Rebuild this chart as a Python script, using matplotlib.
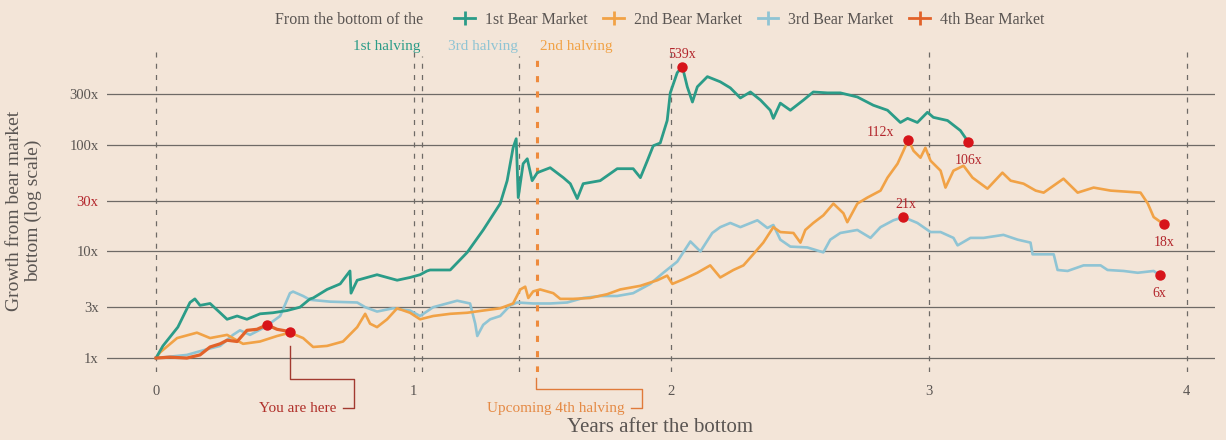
import numpy as np
import matplotlib
matplotlib.use("Agg")
import matplotlib.pyplot as plt
from matplotlib.lines import Line2D
from matplotlib.ticker import FixedLocator, NullLocator
import matplotlib.transforms as mtransforms

# years after the bear market bottom / growth multiple from the bottom
bear1_years = [0, 0.027, 0.085, 0.132, 0.151, 0.171, 0.210, 0.249, 0.276, 0.315, 0.353, 0.404, 0.454,
               0.509, 0.559, 0.598, 0.610, 0.664, 0.715, 0.742, 0.753, 0.757, 0.781, 0.858, 0.936, 0.986,
               1.025, 1.052, 1.064, 1.142, 1.208, 1.270, 1.336, 1.363, 1.386, 1.398, 1.406, 1.425, 1.441,
               1.460, 1.480, 1.530, 1.581, 1.608, 1.635, 1.658, 1.724, 1.790, 1.852, 1.880, 1.907, 1.930,
               1.957, 1.984, 1.996, 2.023, 2.043, 2.062, 2.082, 2.101, 2.140, 2.190, 2.229, 2.268, 2.307,
               2.346, 2.384, 2.396, 2.423, 2.462, 2.513, 2.551, 2.606, 2.656, 2.722, 2.784, 2.839, 2.889,
               2.917, 2.955, 2.994, 3.017, 3.072, 3.122, 3.153]
bear1_growth = [1.0, 1.30, 1.95, 3.32, 3.59, 3.12, 3.25, 2.66, 2.31, 2.48, 2.31, 2.60, 2.66, 2.79, 3.0,
                3.59, 3.66, 4.40, 4.96, 6.05, 6.56, 4.06, 5.37, 6.05, 5.37, 5.70, 6.05, 6.56, 6.70, 6.70,
                9.8, 15.9, 28.1, 46.1, 93.8, 114, 32.0, 66.5, 74.0, 46.1, 54.8, 61.0, 49.2, 43.2, 31.3,
                43.2, 46.1, 59.7, 59.7, 49.2, 71.0, 98, 104, 169, 307, 475, 539, 350, 252, 350, 436, 390,
                342, 275, 313, 263, 211, 177, 246, 211, 263, 313, 307, 307, 281, 235, 211, 162, 177, 162,
                202, 181, 169, 136, 106]

bear2_years = [0, 0.016, 0.082, 0.159, 0.210, 0.276, 0.338, 0.404, 0.470, 0.520, 0.571, 0.610, 0.664,
               0.726, 0.781, 0.812, 0.831, 0.858, 0.897, 0.936, 0.986, 1.025, 1.076, 1.142, 1.208, 1.270,
               1.336, 1.386, 1.414, 1.433, 1.445, 1.464, 1.491, 1.542, 1.569, 1.619, 1.685, 1.751, 1.802,
               1.880, 1.946, 1.984, 2.004, 2.047, 2.101, 2.151, 2.190, 2.241, 2.280, 2.318, 2.357, 2.396,
               2.423, 2.474, 2.501, 2.520, 2.551, 2.590, 2.629, 2.668, 2.683, 2.722, 2.761, 2.812, 2.839,
               2.878, 2.901, 2.920, 2.940, 2.967, 2.986, 3.006, 3.045, 3.064, 3.095, 3.134, 3.169, 3.227,
               3.285, 3.317, 3.367, 3.414, 3.445, 3.522, 3.577, 3.639, 3.705, 3.821, 3.849, 3.872, 3.911]
bear2_growth = [1.0, 1.13, 1.54, 1.73, 1.54, 1.65, 1.36, 1.43, 1.61, 1.73, 1.54, 1.27, 1.30, 1.43, 1.95,
                2.60, 2.10, 1.95, 2.31, 2.93, 2.66, 2.31, 2.48, 2.60, 2.66, 2.79, 2.93, 3.25, 4.40, 4.67,
                3.66, 4.22, 4.40, 4.06, 3.59, 3.59, 3.66, 3.97, 4.40, 4.76, 5.37, 5.93, 4.96, 5.48, 6.31,
                7.40, 5.70, 6.70, 7.40, 9.41, 12.1, 16.9, 15.2, 14.9, 12.1, 15.9, 18.5, 21.8, 28.1, 22.8,
                18.8, 28.1, 32.0, 37.2, 49.2, 66.5, 87.9, 112, 87.9, 75.7, 93.8, 71.0, 57.2, 39.7, 57.2,
                63.7, 49.2, 38.8, 54.8, 46.1, 43.2, 37.2, 35.6, 48.1, 35.6, 39.7, 37.2, 35.6, 28.2, 21.0, 18]

bear3_years = [0, 0.120, 0.198, 0.249, 0.299, 0.326, 0.365, 0.423, 0.482, 0.520, 0.532, 0.571, 0.598,
               0.676, 0.781, 0.812, 0.858, 0.920, 0.986, 1.025, 1.076, 1.169, 1.219, 1.239, 1.247, 1.270,
               1.297, 1.336, 1.375, 1.402, 1.464, 1.530, 1.596, 1.658, 1.724, 1.790, 1.852, 1.918, 1.969,
               2.023, 2.074, 2.113, 2.159, 2.190, 2.229, 2.268, 2.334, 2.373, 2.396, 2.423, 2.462, 2.528,
               2.590, 2.617, 2.656, 2.722, 2.773, 2.812, 2.862, 2.901, 2.955, 3.006, 3.045, 3.095, 3.111,
               3.161, 3.212, 3.289, 3.344, 3.394, 3.402, 3.484, 3.499, 3.538, 3.600, 3.666, 3.693, 3.755,
               3.810, 3.872, 3.895]
bear3_growth = [1.0, 1.07, 1.21, 1.30, 1.65, 1.82, 1.65, 1.95, 2.48, 4.06, 4.2, 3.82, 3.52, 3.38, 3.32,
                3.0, 2.73, 2.93, 2.79, 2.48, 3.0, 3.45, 3.25, 2.10, 1.61, 2.05, 2.31, 2.48, 3.12, 3.32,
                3.25, 3.25, 3.32, 3.66, 3.82, 3.82, 4.06, 4.96, 6.31, 8.02, 12.4, 10, 14.9, 16.9, 18.5,
                16.9, 19.6, 16.6, 17.7, 12.9, 11.1, 10.9, 9.8, 12.9, 14.9, 15.9, 13.4, 16.9, 19.6, 21,
                18.5, 15.2, 15.2, 13.4, 11.4, 13.4, 13.4, 14.3, 12.9, 12.1, 9.4, 9.4, 6.7, 6.56, 7.40,
                7.40, 6.70, 6.56, 6.31, 6.56, 6.0]

bear4_years = [0, 0.054, 0.120, 0.171, 0.210, 0.249, 0.276, 0.315, 0.353, 0.392, 0.431, 0.470, 0.520]
bear4_growth = [1.0, 1.02, 1.0, 1.07, 1.27, 1.36, 1.47, 1.43, 1.82, 1.86, 2.05, 1.86, 1.77]

series_names = ["1st Bear Market", "2nd Bear Market", "3rd Bear Market", "4th Bear Market"]
year_ticks = [0, 1, 2, 3, 4]
growth_ticks = [1, 3, 10, 30, 100, 300]
growth_labels = ["1x", "3x", "10x", "30x", "100x", "300x"]
halvings = {"1st halving": 1.033, "3rd halving": 1.41, "2nd halving": 1.48}
next_halving = 1.48

BG = "#f3e5d8"
TEXT = "#5a5552"
RED = "#d7141a"
LABEL_RED = "#b3262c"
colors = ["#2b9c88", "#f1a246", "#8fc4d4", "#e2622a"]

plt.rcParams["font.family"] = ["Liberation Serif", "DejaVu Serif"]

fig = plt.figure(figsize=(12.26, 4.40), dpi=100, facecolor=BG)
ax = fig.add_axes([107 / 1226, 1 - 372 / 440, (1215 - 107) / 1226, (372 - 50) / 440])
ax.set_facecolor(BG)
ax.set_yscale("log")
ax.set_xlim(-0.19, 4.11)
ax.set_ylim(0.74, 775)

for s in ax.spines.values():
    s.set_visible(False)

# grid
for g in growth_ticks:
    ax.axhline(g, color="#6e6a66", lw=0.9, zorder=1)
for yr in year_ticks:
    ax.axvline(yr, color="#6e6a66", lw=0.9, ls=(0, (4, 5)), zorder=1)
for name, yr in halvings.items():
    if name == "2nd halving":
        continue
    ax.axvline(yr, ymax=0.98, color="#6e6a66", lw=0.9, ls=(0, (4, 5)), zorder=1)
ax.axvline(next_halving, ymax=0.98, color="#ee8a3c", lw=2.2, ls=(0, (2, 3)), zorder=1)

# series
ax.plot(bear3_years, bear3_growth, color=colors[2], lw=1.9, zorder=3)
ax.plot(bear2_years, bear2_growth, color=colors[1], lw=1.9, zorder=3)
ax.plot(bear1_years, bear1_growth, color=colors[0], lw=2.0, zorder=4)
ax.plot(bear4_years, bear4_growth, color=colors[3], lw=2.3, zorder=5)

# highlighted points: peak and latest of each cycle
label_style = dict(color=LABEL_RED, fontsize=10, ha="center", zorder=7)
for yrs, vals, peak_off, last_off in [
        (bear1_years, bear1_growth, (0, 9), (0, -13)),
        (bear2_years, bear2_growth, (-20, 5), (0, -13)),
        (bear3_years, bear3_growth, (2, 9), (0, -13))]:
    i_pk = int(np.argmax(vals))
    for i, off in [(i_pk, peak_off), (len(vals) - 1, last_off)]:
        ax.plot(yrs[i], vals[i], "o", color=RED, ms=6.5, zorder=6)
        ax.annotate(f"{vals[i]:.0f}x", (yrs[i], vals[i]), xytext=off,
                    textcoords="offset points", va="center", **label_style)

i_pk4 = int(np.argmax(bear4_growth))
ax.plot(bear4_years[i_pk4], bear4_growth[i_pk4], "o", color=RED, ms=6.5, zorder=6)
ax.plot(bear4_years[-1], bear4_growth[-1], "o", color=RED, ms=6.5, zorder=6)

# axes ticks
ax.yaxis.set_major_locator(FixedLocator(growth_ticks))
ax.yaxis.set_minor_locator(NullLocator())
ax.set_yticklabels(growth_labels)
ax.set_xticks(year_ticks)
ax.tick_params(axis="both", length=0, labelsize=10.5, colors=TEXT)
ax.tick_params(axis="y", pad=6)
ax.tick_params(axis="x", pad=9)
for lbl in ax.get_yticklabels():
    if lbl.get_text() == "30x":
        lbl.set_color(LABEL_RED)

# halving labels
trans = mtransforms.blended_transform_factory(ax.transData, ax.transAxes)
halving_colors = {"1st halving": colors[0], "3rd halving": colors[2], "2nd halving": colors[1]}
for name, yr in halvings.items():
    ha = "left" if name == "2nd halving" else "right"
    dx = 0.01 if ha == "left" else -0.005
    ax.text(yr + dx, 1.01, name, transform=trans, ha=ha, va="center",
            fontsize=11, color=halving_colors[name])

# "You are here" connector
x0 = bear4_years[-1]
ax.plot([x0, x0, 0.769, 0.769, 0.725], [0.08, -0.023, -0.023, -0.112, -0.112],
        transform=trans, color="#a23a30", lw=1, clip_on=False)
ax.text(0.70, -0.112, "You are here", transform=trans, ha="right", va="center",
        fontsize=11, color="#b0302a")

# "Upcoming 4th halving" connector
ax.plot([next_halving - 0.005, next_halving - 0.005, 1.887, 1.887, 1.845],
        [-0.02, -0.053, -0.053, -0.112, -0.112],
        transform=trans, color="#e07a3a", lw=1, clip_on=False)
ax.text(1.82, -0.112, "Upcoming 4th halving", transform=trans, ha="right", va="center",
        fontsize=11, color="#e58a45")

# legend
fig.text(275 / 1226, 1 - 20 / 440, "From the bottom of the", ha="left", va="center",
         fontsize=11.5, color=TEXT)
handles = [Line2D([], [], color=c, lw=2, marker="|", markersize=10, markeredgewidth=2)
           for c in colors]
fig.legend(handles, series_names, loc="center left", bbox_to_anchor=(440 / 1226, 1 - 20 / 440),
           ncol=4, frameon=False, fontsize=11.5, handlelength=1.3, handletextpad=0.6,
           columnspacing=1.0, labelcolor=TEXT)

# axis titles
fig.text(660 / 1226, 1 - 427 / 440, "Years after the bottom", ha="center", va="center",
         fontsize=15, color=TEXT)
fig.text(24 / 1226, 1 - 211 / 440, "Growth from bear market\nbottom (log scale)",
         ha="center", va="center", rotation=90, fontsize=14, color=TEXT, linespacing=1.2)

fig.savefig("out.png", dpi=100, facecolor=BG)
